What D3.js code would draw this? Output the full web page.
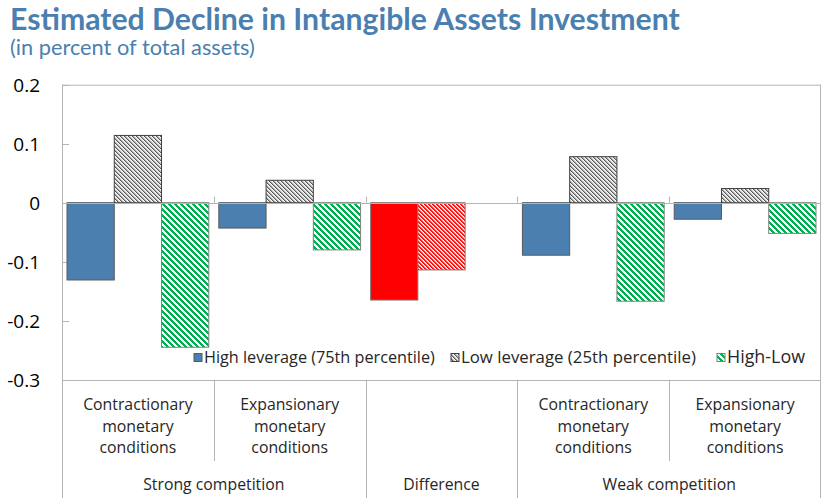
<!DOCTYPE html>
<html>
<head>
<meta charset="utf-8">
<script src="https://cdn.jsdelivr.net/npm/d3@7"></script>
<style>
  html, body { margin: 0; padding: 0; background: #fff; }
  svg { display: block; font-family: "Open Sans", "Noto Sans", sans-serif; }
</style>
</head>
<body>
<svg id="chart" width="822" height="498"></svg>
<script>
// ---------- data ----------
const titleText = "Estimated Decline in Intangible Assets Investment";
const subtitleText = "(in percent of total assets)";
const categories = ["strongContr", "strongExp", "difference", "weakContr", "weakExp"];
const categoryLabels = [
  ["Contractionary", "monetary", "conditions"],
  ["Expansionary", "monetary", "conditions"],
  [],
  ["Contractionary", "monetary", "conditions"],
  ["Expansionary", "monetary", "conditions"]
];
const groupLabels = ["Strong competition", "Difference", "Weak competition"];
const groupSpans = [[0, 2], [2, 3], [3, 5]];
const seriesNames = ["High leverage (75th percentile)", "Low leverage (25th percentile)", "High-Low"];
const highLeverage = [-0.131, -0.043, null, -0.089, -0.028];
const lowLeverage  = [0.114, 0.038, null, 0.078, 0.024];
const highLow      = [-0.245, -0.080, null, -0.167, -0.052];
const difference   = [-0.165, -0.114];   // strong minus weak (solid / hatched)
const yTicks = [0.2, 0.1, 0, -0.1, -0.2, -0.3];
const yTickLabels = ["0.2", "0.1", "0", "-0.1", "-0.2", "-0.3"];

// ---------- layout ----------
const svg = d3.select("#chart");
const plot = { left: 62, right: 821, top: 84.7, bottom: 379.7 };

const x = d3.scaleBand().domain(categories).range([plot.left, plot.right]).paddingInner(0).paddingOuter(0);
const xs = d3.scaleBand().domain([0, 1, 2]).range([0, x.bandwidth()]).paddingInner(0).paddingOuter(0.106);
const y = d3.scaleLinear().domain([-0.3, 0.2]).range([plot.bottom, plot.top]);

// ---------- patterns ----------
const defs = svg.append("defs");
function tilePattern(id, size, cells, bg) {
  const p = defs.append("pattern").attr("id", id).attr("patternUnits", "userSpaceOnUse")
    .attr("width", size).attr("height", size);
  p.append("rect").attr("width", size).attr("height", size).attr("fill", bg);
  for (let r = 0; r < size; r++) {
    cells.forEach(c => {
      p.append("rect").attr("x", (r + c.off) % size).attr("y", r)
        .attr("width", 1).attr("height", 1).attr("fill", c.color)
        .attr("shape-rendering", "crispEdges");
    });
  }
}
tilePattern("grayHatch", 4, [{ off: 0, color: "#5a5a5a" }, { off: 1, color: "#a8a8a8" }, { off: 2, color: "#dcdcdc" }], "#ffffff");
tilePattern("greenHatch", 6, [{ off: 0, color: "#00b050" }, { off: 1, color: "#00b050" }, { off: 2, color: "#00b050" }], "#ffffff");
tilePattern("redHatch", 4, [{ off: 0, color: "#ff0000" }, { off: 1, color: "#ff2a2a" }, { off: 2, color: "#ffb3b3" }], "#ffffff");

const seriesStyles = [
  { fill: "#4a7fb0", stroke: "#5a5a5a" },
  { fill: "url(#grayHatch)", stroke: "#404040" },
  { fill: "url(#greenHatch)", stroke: "#808080" }
];

// ---------- frame ----------
const gridColor = "#b4b4b4";
svg.append("line").attr("x1", plot.left).attr("x2", plot.right).attr("y1", plot.top + 0.5).attr("y2", plot.top + 0.5)
  .attr("stroke", gridColor);
svg.append("line").attr("x1", plot.right - 0.5).attr("x2", plot.right - 0.5).attr("y1", plot.top).attr("y2", 498)
  .attr("stroke", gridColor);
svg.append("line").attr("x1", plot.left + 0.5).attr("x2", plot.left + 0.5).attr("y1", plot.top).attr("y2", 498)
  .attr("stroke", gridColor);

// y ticks (inside)
svg.append("g").selectAll("line").data(yTicks).join("line")
  .attr("x1", plot.left).attr("x2", plot.left + 7)
  .attr("y1", d => Math.round(y(d)) + 0.5).attr("y2", d => Math.round(y(d)) + 0.5)
  .attr("stroke", gridColor);
svg.append("g").selectAll("text").data(yTicks).join("text")
  .attr("x", 40).attr("y", d => y(d)).attr("dy", "0.36em")
  .attr("text-anchor", "end").attr("font-size", 19).attr("fill", "#000")
  .text((d, i) => yTickLabels[i]);

// ---------- bars ----------
const series = [highLeverage, lowLeverage, highLow];
const barG = svg.append("g");
series.forEach((vals, si) => {
  barG.append("g").selectAll("rect")
    .data(vals.map((v, ci) => ({ v, c: categories[ci] })).filter(d => d.v !== null))
    .join("rect")
    .attr("x", d => x(d.c) + xs(si))
    .attr("width", xs.bandwidth())
    .attr("y", d => y(Math.max(0, d.v)))
    .attr("height", d => Math.abs(y(d.v) - y(0)))
    .attr("fill", seriesStyles[si].fill)
    .attr("stroke", seriesStyles[si].stroke)
    .attr("stroke-width", 1);
});
const diffFills = ["#ff0000", "url(#redHatch)"];
barG.append("g").selectAll("rect").data(difference).join("rect")
  .attr("x", (d, i) => x("difference") + xs(i))
  .attr("width", xs.bandwidth())
  .attr("y", d => y(Math.max(0, d)))
  .attr("height", d => Math.abs(y(d) - y(0)))
  .attr("fill", (d, i) => diffFills[i])
  .attr("stroke", "#7a7a7a").attr("stroke-width", 1);

// zero line + category ticks
svg.append("line").attr("x1", plot.left).attr("x2", plot.right)
  .attr("y1", Math.round(y(0)) + 0.5).attr("y2", Math.round(y(0)) + 0.5).attr("stroke", gridColor);
svg.append("g").selectAll("line").data(categories.slice(1)).join("line")
  .attr("x1", d => Math.round(x(d)) + 0.5).attr("x2", d => Math.round(x(d)) + 0.5)
  .attr("y1", y(0) - 6).attr("y2", y(0)).attr("stroke", gridColor);

// ---------- category axis ----------
svg.append("line").attr("x1", plot.left).attr("x2", plot.right)
  .attr("y1", Math.round(plot.bottom) + 0.5).attr("y2", Math.round(plot.bottom) + 0.5).attr("stroke", gridColor);
categories.slice(1).forEach((c, i) => {
  const isGroupEdge = groupSpans.some(s => s[0] === i + 1);
  svg.append("line")
    .attr("x1", Math.round(x(c)) + 0.5).attr("x2", Math.round(x(c)) + 0.5)
    .attr("y1", plot.bottom).attr("y2", isGroupEdge ? 498 : 461)
    .attr("stroke", gridColor);
});
const catG = svg.append("g").attr("font-size", 15.8).attr("fill", "#262626").attr("text-anchor", "middle");
categoryLabels.forEach((lines, ci) => {
  lines.forEach((ln, li) => {
    catG.append("text").attr("x", x(categories[ci]) + x.bandwidth() / 2)
      .attr("y", 410 + li * 21.5).text(ln);
  });
});
groupLabels.forEach((g, gi) => {
  const s = groupSpans[gi];
  const x0 = x(categories[s[0]]);
  const x1 = x(categories[s[1] - 1]) + x.bandwidth();
  catG.append("text").attr("x", (x0 + x1) / 2).attr("y", 490).text(g);
});

// ---------- legend ----------
const legendX = [194, 451, 717];
const legendTextW = [231, 235, 78];
const lg = svg.append("g");
seriesNames.forEach((name, i) => {
  lg.append("rect").attr("x", legendX[i]).attr("y", 353.5).attr("width", 8).attr("height", 8)
    .attr("fill", seriesStyles[i].fill).attr("stroke", seriesStyles[i].stroke);
  const t = lg.append("text").attr("x", legendX[i] + 10).attr("y", 363)
    .attr("font-size", 15).attr("fill", "#262626").text(name);
  const w = t.node().getComputedTextLength();
  t.attr("font-size", 15 * legendTextW[i] / w);
});

// ---------- titles ----------
const title = svg.append("text").attr("x", 10).attr("y", 29.5).attr("font-size", 26)
  .attr("font-family", "Lato, 'Open Sans', sans-serif")
  .attr("font-weight", "bold").attr("fill", "#4a7fb0").text(titleText);
let tw = title.node().getComputedTextLength();
title.attr("font-size", 26 * 670 / tw);
const sub = svg.append("text").attr("x", 10).attr("y", 55).attr("font-size", 19)
  .attr("font-family", "Lato, 'Open Sans', sans-serif")
  .attr("fill", "#4a7fb0").text(subtitleText);
tw = sub.node().getComputedTextLength();
sub.attr("font-size", 19 * 245 / tw);
</script>
</body>
</html>
